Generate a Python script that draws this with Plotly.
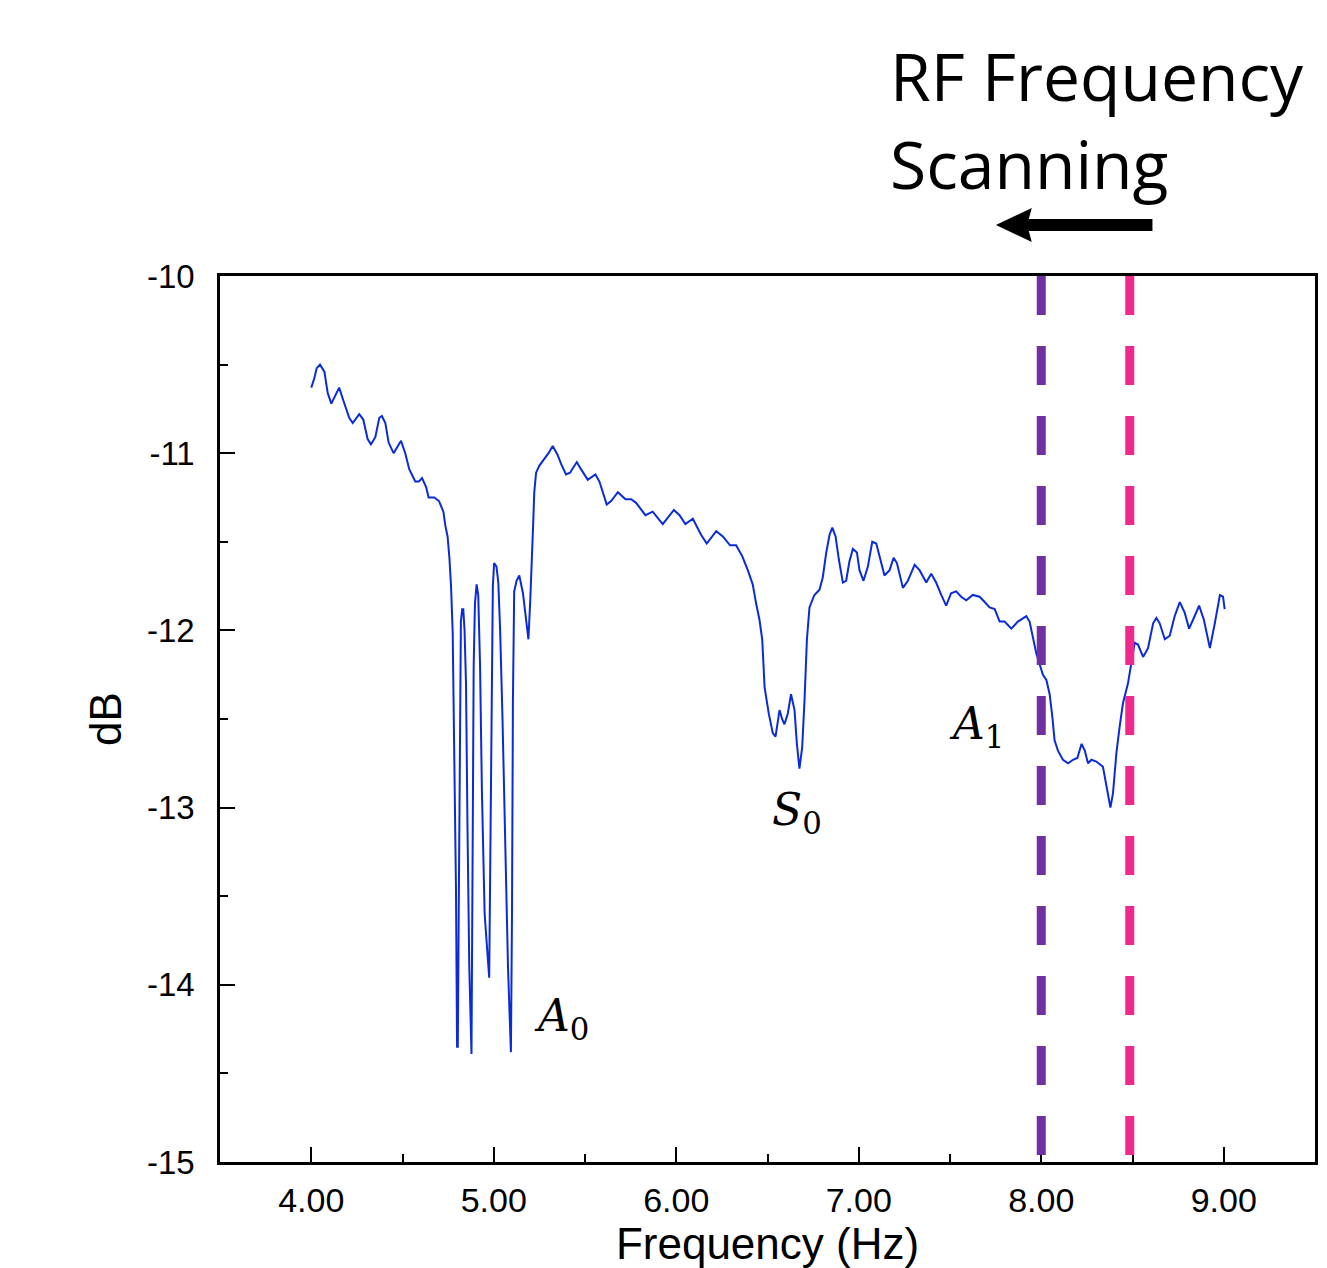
import plotly.graph_objects as go

# ---------------- data ----------------
freq = [4.000, 4.016, 4.030, 4.048, 4.072, 4.090, 4.110, 4.130, 4.153, 4.175, 4.208, 4.227,
        4.263, 4.285, 4.309, 4.327, 4.351, 4.373, 4.387, 4.406, 4.424, 4.451, 4.470, 4.492,
        4.515, 4.537, 4.570, 4.590, 4.607, 4.629, 4.643, 4.674, 4.700, 4.724, 4.735,
        4.747, 4.757, 4.766, 4.775, 4.784, 4.793, 4.799, 4.803, 4.808, 4.813, 4.820, 4.827,
        4.833, 4.840, 4.848, 4.856, 4.866, 4.878, 4.884, 4.890, 4.897, 4.906, 4.915, 4.925,
        4.935, 4.950, 4.975, 4.982, 4.988, 4.995, 5.002, 5.015, 5.025, 5.035, 5.048, 5.062,
        5.078, 5.094, 5.100, 5.105, 5.112, 5.125, 5.140, 5.160, 5.172, 5.190, 5.200, 5.210,
        5.216, 5.222, 5.232, 5.250, 5.280, 5.300, 5.323, 5.350, 5.369, 5.396, 5.418, 5.455,
        5.478, 5.515, 5.557, 5.579, 5.619, 5.643, 5.680, 5.722, 5.753, 5.780, 5.831, 5.871,
        5.926, 5.987, 6.018, 6.050, 6.091, 6.136, 6.167, 6.219, 6.255, 6.295, 6.328, 6.361,
        6.392, 6.419, 6.438, 6.456, 6.471, 6.484, 6.507, 6.529, 6.544, 6.566, 6.580, 6.593,
        6.611, 6.629, 6.648, 6.661, 6.675, 6.690, 6.703, 6.716, 6.730, 6.757, 6.785, 6.803,
        6.822, 6.840, 6.855, 6.873, 6.891, 6.913, 6.931, 6.949, 6.968, 6.990, 7.004, 7.026,
        7.050, 7.074, 7.096, 7.118, 7.141, 7.169, 7.191, 7.209, 7.242, 7.269, 7.306, 7.333,
        7.370, 7.397, 7.424, 7.452, 7.479, 7.506, 7.534, 7.561, 7.589, 7.625, 7.662, 7.690,
        7.717, 7.745, 7.772, 7.799, 7.836, 7.872, 7.890, 7.918, 7.936, 7.955, 7.973, 7.991,
        8.009, 8.028, 8.046, 8.061, 8.073, 8.092, 8.119, 8.147, 8.174, 8.198, 8.221, 8.239,
        8.256, 8.275, 8.302, 8.338, 8.357, 8.379, 8.393, 8.412, 8.430, 8.448, 8.475, 8.494,
        8.512, 8.530, 8.558, 8.585, 8.613, 8.631, 8.649, 8.677, 8.704, 8.731, 8.759, 8.786,
        8.810, 8.836, 8.865, 8.891, 8.924, 8.951, 8.979, 8.996, 9.005]

db = [-10.63, -10.58, -10.52, -10.50, -10.54, -10.66, -10.72, -10.68, -10.63, -10.70, -10.80, -10.83,
      -10.78, -10.81, -10.92, -10.95, -10.91, -10.80, -10.79, -10.83, -10.94, -11.00, -10.97, -10.93,
      -11.00, -11.09, -11.16, -11.16, -11.14, -11.19, -11.25, -11.25, -11.27, -11.33, -11.41,
      -11.47, -11.59, -11.75, -12.01, -12.79, -13.46, -14.35, -14.35, -13.60, -12.60, -11.95, -11.88,
      -11.88, -12.00, -12.30, -13.10, -13.90, -14.39, -13.30, -12.20, -11.85, -11.74, -11.80, -12.20,
      -12.90, -13.60, -13.96, -13.20, -12.30, -11.75, -11.62, -11.64, -11.73, -12.00, -12.50, -13.20,
      -13.90, -14.38, -13.60, -12.40, -11.78, -11.72, -11.69, -11.79, -11.91, -12.05, -11.83, -11.60,
      -11.40, -11.22, -11.11, -11.07, -11.03, -11.00, -10.96, -11.01, -11.06, -11.12, -11.11, -11.05,
      -11.09, -11.15, -11.12, -11.16, -11.29, -11.27, -11.22, -11.26, -11.26, -11.28, -11.35, -11.33,
      -11.40, -11.32, -11.35, -11.40, -11.37, -11.46, -11.51, -11.44, -11.47, -11.52, -11.52, -11.58,
      -11.66, -11.74, -11.85, -11.94, -12.05, -12.32, -12.47, -12.58, -12.60, -12.45, -12.50, -12.53,
      -12.47, -12.36, -12.45, -12.64, -12.78, -12.66, -12.39, -12.05, -11.87, -11.80, -11.77, -11.70,
      -11.56, -11.46, -11.42, -11.47, -11.60, -11.73, -11.72, -11.61, -11.54, -11.56, -11.66, -11.72,
      -11.64, -11.50, -11.51, -11.60, -11.69, -11.66, -11.59, -11.62, -11.76, -11.72, -11.63, -11.66,
      -11.73, -11.68, -11.73, -11.80, -11.86, -11.79, -11.78, -11.81, -11.83, -11.80, -11.81, -11.84,
      -11.87, -11.88, -11.95, -11.95, -11.99, -11.95, -11.94, -11.92, -11.95, -12.05, -12.13, -12.19,
      -12.25, -12.28, -12.36, -12.49, -12.62, -12.68, -12.73, -12.75, -12.73, -12.72, -12.64, -12.68,
      -12.75, -12.73, -12.74, -12.77, -12.88, -13.00, -12.92, -12.69, -12.54, -12.41, -12.30, -12.19,
      -12.07, -12.08, -12.15, -12.10, -11.96, -11.93, -11.96, -12.05, -12.03, -11.92, -11.84, -11.90,
      -11.99, -11.93, -11.86, -11.94, -12.10, -11.96, -11.80, -11.81, -11.88]

x_tickvals = [4, 5, 6, 7, 8, 9]
x_ticktext = ["4.00", "5.00", "6.00", "7.00", "8.00", "9.00"]
y_tickvals = [-10, -11, -12, -13, -14, -15]
y_ticktext = ["-10", "-11", "-12", "-13", "-14", "-15"]

marker_freqs = [8.0, 8.485]
marker_colors = ["#7030A0", "#F0288C"]

mode_labels = ["<i>A</i><sub>0</sub>", "<i>S</i><sub>0</sub>", "<i>A</i><sub>1</sub>"]
mode_x = [5.212, 6.511, 7.481]
mode_y = [-14.19, -13.03, -12.54]

# ---------------- figure ----------------
fig = go.Figure()
fig.add_trace(go.Scatter(x=freq, y=db, mode="lines",
                         line=dict(color="#0a2bd9", width=2), showlegend=False))

shapes = []
for f, c in zip(marker_freqs, marker_colors):
    shapes.append(dict(type="line", xref="x", yref="paper", x0=f, x1=f, y0=1, y1=0.008,
                       line=dict(color=c, width=9, dash="39px,31px"), layer="above"))

# arrow (paper coords) pointing left
def px(xp):
    return (xp - 220) / 1098
def py(yp):
    return (1162 - yp) / 886

path = (f"M {px(1155)} {py(219)} L {px(1031)} {py(219)} L {px(1034)} {py(208)} "
        f"L {px(998)} {py(225)} L {px(1034)} {py(242)} L {px(1031)} {py(231)} "
        f"L {px(1155)} {py(231)} Z")
shapes.append(dict(type="path", xref="paper", yref="paper", path=path,
                   fillcolor="black", line=dict(color="black", width=0)))

annotations = []
for t, xx, yy in zip(mode_labels, mode_x, mode_y):
    annotations.append(dict(text=t, x=xx, y=yy, xref="x", yref="y", showarrow=False,
                            xanchor="left", yanchor="middle",
                            font=dict(family="DejaVu Serif", size=44, color="black")))

annotations.append(dict(text="RF Frequency", x=px(890), y=py(75), xref="paper", yref="paper",
                        showarrow=False, xanchor="left", yanchor="middle",
                        font=dict(family="Open Sans", size=66, color="black")))
annotations.append(dict(text="Scanning", x=px(890), y=py(163), xref="paper", yref="paper",
                        showarrow=False, xanchor="left", yanchor="middle",
                        font=dict(family="Open Sans", size=66, color="black")))

axis_common = dict(showline=True, linecolor="black", linewidth=2.5, mirror=True,
                   ticks="inside", ticklen=15, tickwidth=2, tickcolor="black",
                   showgrid=False, zeroline=False)

fig.update_layout(
    width=1327, height=1268,
    margin=dict(l=220, r=9, t=276, b=106),
    paper_bgcolor="white", plot_bgcolor="white",
    shapes=shapes, annotations=annotations,
    xaxis=dict(range=[3.5, 9.5], tickvals=x_tickvals, ticktext=x_ticktext,
               tickfont=dict(family="Liberation Sans", size=34, color="black"),
               minor=dict(dtick=0.5, ticks="inside", ticklen=8, tickwidth=2, tickcolor="black"),
               title=dict(text="Frequency (Hz)", standoff=4,
                          font=dict(family="Liberation Sans", size=44, color="black")),
               ticklabelstandoff=6,
               **axis_common),
    yaxis=dict(range=[-15, -10], tickvals=y_tickvals, ticktext=y_ticktext,
               tickfont=dict(family="Liberation Sans", size=33, color="black"),
               minor=dict(dtick=0.5, ticks="inside", ticklen=8, tickwidth=2, tickcolor="black"),
               title=dict(text="dB", standoff=12,
                          font=dict(family="Liberation Sans", size=44, color="black")),
               ticklabelstandoff=16,
               **axis_common),
)

fig.write_html("out.html")
